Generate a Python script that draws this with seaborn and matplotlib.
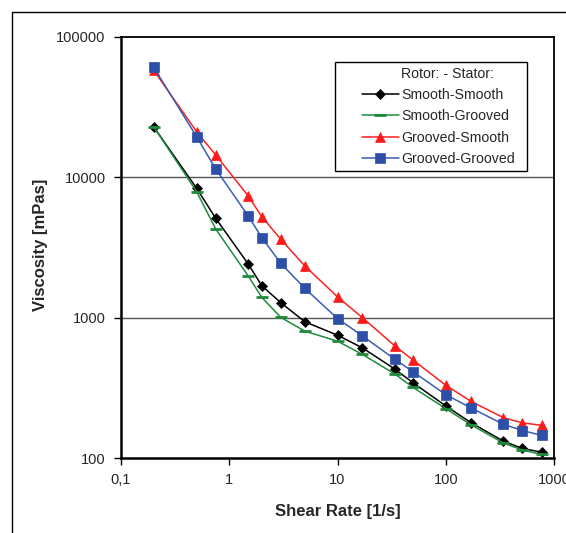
import numpy as np
import pandas as pd
import matplotlib
matplotlib.use("Agg")
import matplotlib.pyplot as plt
import matplotlib.ticker as mticker
from matplotlib.patches import Rectangle
from matplotlib.lines import Line2D
import seaborn as sns

# shear rates [1/s]
shear_rate = [0.2, 0.5, 0.75, 1.5, 2, 3, 5, 10, 17, 34, 50, 100, 170, 340, 510, 770]

# viscosity [mPas] per rotor-stator combination
smooth_smooth = [22950, 8340, 5100, 2405, 1686, 1276, 934, 750, 609, 429, 343, 235, 179, 132, 117, 110]
smooth_grooved = [23000, 7890, 4280, 1977, 1393, 1003, 801, 680, 547, 396, 318, 225, 173, 128, 114, 106]
grooved_smooth = [58000, 21100, 14400, 7350, 5230, 3610, 2330, 1407, 1000, 627, 498, 330, 254, 194, 178, 171]
grooved_grooved = [60800, 19450, 11450, 5290, 3710, 2434, 1614, 986, 741, 504, 411, 283, 228, 174, 157, 145]

labels = ["Smooth-Smooth", "Smooth-Grooved", "Grooved-Smooth", "Grooved-Grooved"]
legend_title = "Rotor: - Stator:"
x_ticks = [0.1, 1, 10, 100, 1000]
x_tick_labels = ["0,1", "1", "10", "100", "1000"]
y_ticks = [100, 1000, 10000, 100000]

sns.set_style("white")
plt.rcParams['font.family'] = ['Liberation Sans', 'DejaVu Sans']

fig = plt.figure(figsize=(5.66, 5.33), dpi=100)
ax = fig.add_axes([0.2138, 0.1407, 0.765, 0.79])

# outer chart frame
fig.patches.append(Rectangle((0.0212, -0.2), 1.5, 0.9775 + 0.2, transform=fig.transFigure,
                             fill=False, edgecolor='black', linewidth=1.0))

series = [smooth_smooth, smooth_grooved, grooved_smooth, grooved_grooved]
colors = ['black', '#1f8a3c', '#ff2020', '#3a5cb4']
mfc = ['black', '#1f8a3c', '#ff1a1a', '#2d4fa8']
markers = ['D', '_', '^', 's']
msizes = [5.5, 8, 7.5, 6.5]

for vals, lab, c, fc, m, ms in zip(series, labels, colors, mfc, markers, msizes):
    df = pd.DataFrame({'x': shear_rate, 'y': vals})
    sns.lineplot(data=df, x='x', y='y', ax=ax, color=c, marker=m, markersize=ms,
                 markerfacecolor=fc, markeredgecolor=fc, markeredgewidth=2 if m == '_' else 0.5,
                 linewidth=1.1, label=lab, zorder=3)

ax.set_xscale('log')
ax.set_yscale('log')
ax.set_xlim(0.1, 1000)
ax.set_ylim(100, 100000)
ax.xaxis.set_major_locator(mticker.FixedLocator(x_ticks))
ax.xaxis.set_major_formatter(mticker.FixedFormatter(x_tick_labels))
ax.xaxis.set_minor_locator(mticker.NullLocator())
ax.yaxis.set_major_locator(mticker.FixedLocator(y_ticks))
ax.yaxis.set_major_formatter(mticker.FuncFormatter(lambda v, p: f"{int(round(v))}"))
ax.yaxis.set_minor_locator(mticker.NullLocator())

ax.grid(False)
for yv in [1000, 10000]:
    ax.axhline(yv, color='#555555', linewidth=1.0, zorder=1)

ax.tick_params(axis='both', which='major', direction='out', length=5, width=1,
               labelsize=10.5, color='black', pad=6, bottom=True, left=True)
for sp in ax.spines.values():
    sp.set_color('black')
    sp.set_linewidth(1.3)
ax.spines['left'].set_linewidth(1.8)
ax.spines['bottom'].set_linewidth(1.8)

ax.set_xlabel("Shear Rate [1/s]", fontsize=12, fontweight='bold', va='center')
ax.set_ylabel("Viscosity [mPas]", fontsize=12, fontweight='bold', va='center')
ax.xaxis.set_label_coords(0.5, -0.126)
ax.yaxis.set_label_coords(-0.186, 0.505)

# legend: title written as a text row aligned with the labels, frame drawn separately
handles, _ = ax.get_legend_handles_labels()
title_handle = Line2D([], [], linestyle='none', marker=None)
leg = ax.legend([title_handle] + handles, [legend_title] + labels,
                loc='upper left', bbox_to_anchor=(0.5566, 0.928),
                borderaxespad=0, borderpad=0, frameon=False, fontsize=10.2,
                handlelength=2.6, handletextpad=0.15, labelspacing=0.5)
ax.add_patch(Rectangle((0.494, 0.6817), 0.4446, 0.2589, transform=ax.transAxes,
                       fill=True, facecolor='white', edgecolor='black',
                       linewidth=1.0, zorder=4))
leg.set_zorder(5)

fig.savefig("out.png", dpi=100)
